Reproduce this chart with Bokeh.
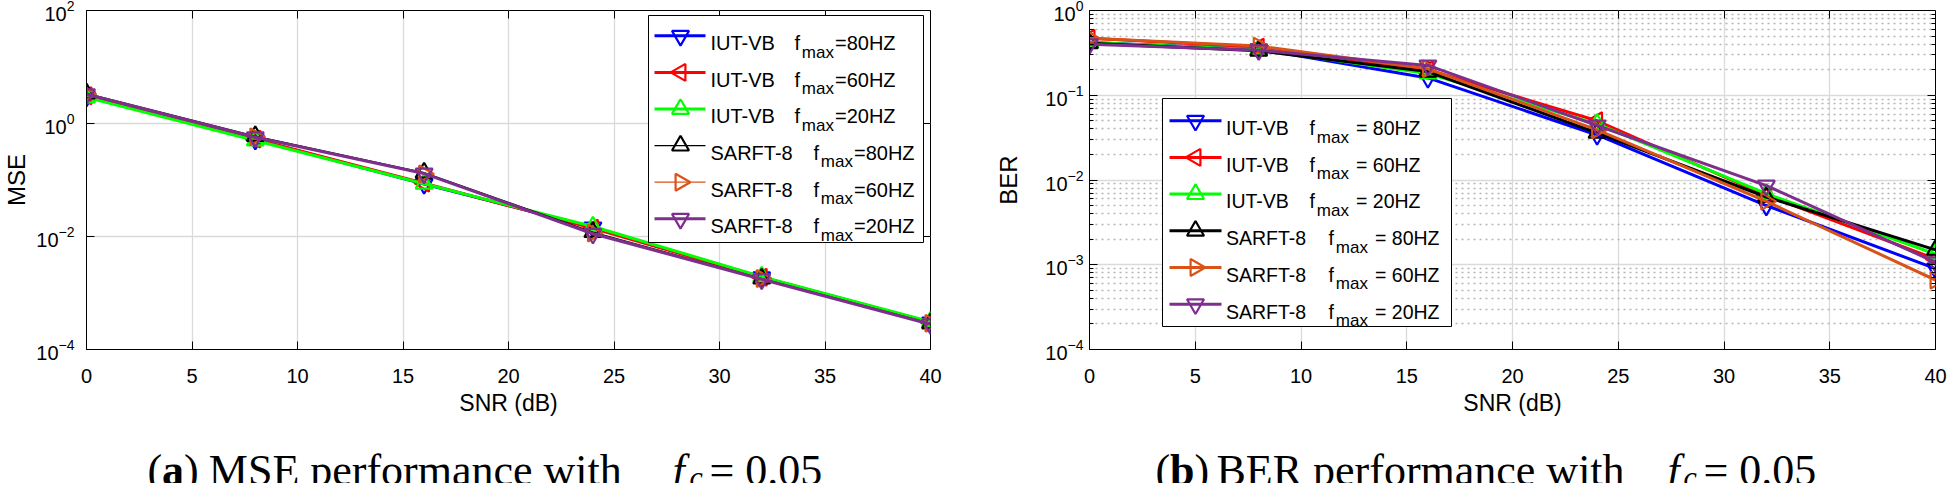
import math
from bokeh.plotting import figure
from bokeh.models import (Range1d, FixedTicker, LinearAxis, LogAxis, Label, Plot,
                          LogTickFormatter, BoxAnnotation, PolyAnnotation, Arrow)
from bokeh.layouts import row, column
from bokeh.embed import file_html
from bokeh.resources import INLINE

# ---------------- data ----------------
snr = [0, 8, 16, 24, 32, 40]
x_ticks = [0, 5, 10, 15, 20, 25, 30, 35, 40]

method_names = ["IUT-VB", "IUT-VB", "IUT-VB", "SARFT-8", "SARFT-8", "SARFT-8"]
fmax_values = ["80HZ", "60HZ", "20HZ", "80HZ", "60HZ", "20HZ"]

mse_iut80 = [3.0, 0.52, 0.085, 0.0145, 0.0019, 0.00030]
mse_iut60 = [3.1, 0.53, 0.088, 0.0140, 0.0019, 0.00030]
mse_iut20 = [2.9, 0.50, 0.086, 0.0150, 0.00195, 0.00031]
mse_sar80 = [3.4, 0.60, 0.135, 0.0120, 0.0018, 0.00029]
mse_sar60 = [3.3, 0.58, 0.128, 0.0115, 0.0018, 0.00029]
mse_sar20 = [3.3, 0.57, 0.130, 0.0112, 0.00175, 0.00028]

ber_iut80 = [0.42, 0.35, 0.160, 0.034, 0.0050, 0.00090]
ber_iut60 = [0.47, 0.37, 0.200, 0.050, 0.0066, 0.00117]
ber_iut20 = [0.42, 0.345, 0.180, 0.046, 0.0069, 0.00134]
ber_sar80 = [0.41, 0.335, 0.190, 0.036, 0.0063, 0.00150]
ber_sar60 = [0.47, 0.38, 0.205, 0.039, 0.0056, 0.00066]
ber_sar20 = [0.40, 0.34, 0.225, 0.044, 0.0086, 0.00107]

mse_major = [1e-4, 1e-2, 1e0, 1e2]
ber_major = [1e-4, 1e-3, 1e-2, 1e-1, 1e0]
ber_minor = [m * 10.0 ** e for e in range(-4, 0) for m in range(2, 10)]

# ---------------- styles ----------------
colors = ["#0000FF", "#FF0000", "#00FF00", "#000000", "#D95319", "#7E2F8E"]
directions = ["down", "left", "up", "up", "right", "down"]
mse_widths = [3, 3, 3, 1.3, 1.3, 3]
ber_widths = [3, 3, 3, 3, 3, 3]
MSIZE = 17

SANS = "Liberation Sans"
SERIF = "Liberation Serif"
GRID = "#dadada"
FT, FB = 10, 349          # frame top / bottom (page px)
H_MAIN = 432
H_CAP = 483 - H_MAIN


def make_plot(width, left, right, y_lo, y_hi, major, minor, ylab_std, ylabel, ylab_off):
    p = figure(width=width, height=H_MAIN, x_range=Range1d(0, 40), y_range=Range1d(y_lo, y_hi),
               y_axis_type="log", output_backend="svg", toolbar_location=None,
               min_border_left=left, min_border_right=right, min_border_top=FT,
               min_border_bottom=H_MAIN - FB)
    p.outline_line_color = "black"
    p.outline_line_width = 1
    p.xaxis.ticker = FixedTicker(ticks=x_ticks)
    p.yaxis.ticker = FixedTicker(ticks=major, minor_ticks=minor)
    p.yaxis.formatter = LogTickFormatter()
    for ax in (p.xaxis, p.yaxis):
        ax.major_tick_in = 8
        ax.major_tick_out = 0
        ax.minor_tick_in = 4
        ax.minor_tick_out = 0
        ax.axis_line_color = "black"
        ax.major_tick_line_color = "black"
        ax.minor_tick_line_color = "black"
        ax.major_label_text_font = SANS
        ax.major_label_text_font_size = "20px"
        ax.major_label_text_color = "black"
        ax.axis_label_text_font = SANS
        ax.axis_label_text_font_style = "normal"
        ax.axis_label_text_color = "black"
    p.xaxis.minor_tick_line_color = None
    p.xaxis.major_label_standoff = 19
    p.yaxis.major_label_standoff = ylab_std
    p.xaxis.axis_label = "SNR (dB)"
    p.xaxis.axis_label_text_font_size = "23px"
    p.xaxis.axis_label_standoff = 4
    p.yaxis.axis_label = ylabel
    p.yaxis.axis_label_text_font_size = "24px"
    p.yaxis.axis_label_standoff = ylab_off

    p.xgrid.grid_line_color = GRID
    p.xgrid.grid_line_width = 1.3
    p.ygrid.grid_line_color = GRID
    p.ygrid.grid_line_width = 1.3
    if minor:
        p.ygrid.minor_grid_line_color = "#b5b5b5"
        p.ygrid.minor_grid_line_dash = "2 4"
        p.ygrid.minor_grid_line_width = 1.3

    top = LinearAxis(ticker=FixedTicker(ticks=x_ticks), fixed_location=y_hi,
                     major_tick_in=8, major_tick_out=0, minor_tick_line_color=None,
                     major_label_text_color=None, axis_line_color=None,
                     major_tick_line_color="black")
    p.add_layout(top, "above")
    rgt = LogAxis(ticker=FixedTicker(ticks=major, minor_ticks=minor), fixed_location=40,
                  major_tick_in=8, major_tick_out=0, minor_tick_in=4, minor_tick_out=0,
                  major_label_text_color=None, axis_line_color=None,
                  major_tick_line_color="black", minor_tick_line_color="black")
    p.add_layout(rgt, "right")
    return p


ANG = {"up": 0, "down": math.pi, "left": math.pi / 2, "right": -math.pi / 2}
MK = {"up": "triangle", "down": "inverted_triangle", "left": "triangle", "right": "triangle"}


def add_series(p, series, widths):
    for ys, c, d, w in zip(series, colors, directions, widths):
        p.line(snr, ys, line_color=c, line_width=w)
        p.scatter(snr, ys, marker=MK[d], size=MSIZE, angle=0 if d in ("up", "down") else ANG[d],
                  line_color=c, line_width=2.2, fill_color=None)


def tri_pts(cx, cy, d, s=MSIZE):
    r = s / 2.0
    h = r * math.sqrt(3)
    a = h / 3.0
    if d == "up":
        return [(cx - r, cy + a), (cx + r, cy + a), (cx, cy + a - h)]
    if d == "down":
        return [(cx - r, cy - a), (cx + r, cy - a), (cx, cy - a + h)]
    if d == "left":
        return [(cx + a, cy - r), (cx + a, cy + r), (cx + a - h, cy)]
    return [(cx - a, cy - r), (cx - a, cy + r), (cx - a + h, cy)]


def lab(p, fx, fy, text, px_x, px_y, size, font=SANS, style="normal", angle=0, align="left"):
    p.add_layout(Label(x=px_x - fx, y=fy - px_y, x_units="screen", y_units="screen",
                       text=text, text_font=font, text_font_size=size, text_font_style=style,
                       text_color="black", text_baseline="alphabetic", text_align=align,
                       angle=angle))


def draw_legend(p, FL, box, row0, drow, line_x, mx, widths, txt0, fsize, gap_iut, gap_sar, eq):
    x0, x1, y0, y1 = box
    p.add_layout(BoxAnnotation(left=x0 - FL, right=x1 - FL, top=FB - y0, bottom=FB - y1,
                               left_units="screen", right_units="screen", top_units="screen",
                               bottom_units="screen", fill_color="white", fill_alpha=1.0,
                               line_color="black", line_alpha=1.0, line_width=1))
    for k in range(6):
        cy = row0 + drow * k
        p.add_layout(Arrow(x_start=line_x[0] - FL, y_start=FB - cy, x_end=line_x[1] - FL,
                           y_end=FB - cy, start_units="screen", end_units="screen", end=None,
                           line_color=colors[k], line_width=widths[k]))
        pts = tri_pts(mx, cy, directions[k])
        p.add_layout(PolyAnnotation(xs=[q[0] - FL for q in pts], ys=[FB - q[1] for q in pts],
                                    xs_units="screen", ys_units="screen", fill_alpha=0.0,
                                    line_color=colors[k], line_alpha=1.0, line_width=2.2))
    for k in range(6):
        base = row0 + drow * k + 7.3
        fx = txt0 + (gap_iut if k < 3 else gap_sar)
        lab(p, FL, FB, method_names[k], txt0, base, fsize)
        lab(p, FL, FB, "f", fx, base, fsize)
        lab(p, FL, FB, "max", fx + 7.3, base + 9, "17px")
        lab(p, FL, FB, eq + fmax_values[k], fx + 40.5 + (6 if eq != "=" else 0), base, fsize)


W1, W2 = 975, 972
FL1, FL2 = 84, 1089
p1 = make_plot(W1, 84, W1 - 84 - 846, 1e-4, 1e2, mse_major, [], 12, "MSE", 3)
add_series(p1, [mse_iut80, mse_iut60, mse_iut20, mse_sar80, mse_sar60, mse_sar20], mse_widths)
draw_legend(p1, FL1, (646, 921, 15, 242), 35.3, 36.6, (652, 703), 678, mse_widths,
            708, "20px", 84, 103, "=")

p2 = make_plot(W2, FL2 - W1, W2 - (FL2 - W1) - 846, 1e-4, 1e0, ber_major, ber_minor, 6, "BER", 20)
add_series(p2, [ber_iut80, ber_iut60, ber_iut20, ber_sar80, ber_sar60, ber_sar20], ber_widths)
draw_legend(p2, FL2, (1162, 1451, 98, 326), 120.2, 36.7, (1169, 1221), 1195, ber_widths,
            1225.5, "19.5px", 83.5, 102.5, "= ")

# ---------------- captions (one bare plot under both panels) ----------------
cap = Plot(width=W1 + W2, height=H_CAP, x_range=Range1d(0, 1), y_range=Range1d(0, 1),
           min_border=0, toolbar_location=None, output_backend="svg", title=None,
           outline_line_color=None)
caption_pieces = [
    ("(", 147, 0, "44px", "normal"), ("a", 161.6, 0, "44px", "bold"),
    (")", 183.6, 0, "44px", "normal"), ("MSE performance with", 208.3, 0, "44px", "normal"),
    ("f", 672, 0, "44px", "italic"), ("c", 689, 6, "30px", "italic"),
    ("= 0.05", 709, 0, "44px", "normal"),
    ("(", 1155, 0, "44px", "normal"), ("b", 1169.6, 0, "44px", "bold"),
    (")", 1194.1, 0, "44px", "normal"), ("BER performance with", 1216, 0, "44px", "normal"),
    ("f", 1667, 0, "44px", "italic"), ("c", 1683, 6, "30px", "italic"),
    ("= 0.05", 1703, 0, "44px", "normal"),
]
CAP_TOP = H_MAIN
CAP_BASE = 470
for text, px, dy, size, style in caption_pieces:
    cap.add_layout(Label(x=px, y=1, x_units="screen", y_units="data",
                         y_offset=-(CAP_BASE + dy - CAP_TOP), text=text, text_font=SERIF,
                         text_font_size=size, text_font_style=style, text_color="black",
                         text_baseline="alphabetic", text_align="left"))

layout = column(row(p1, p2), cap)
open("out.html", "w").write(file_html(layout, INLINE))
